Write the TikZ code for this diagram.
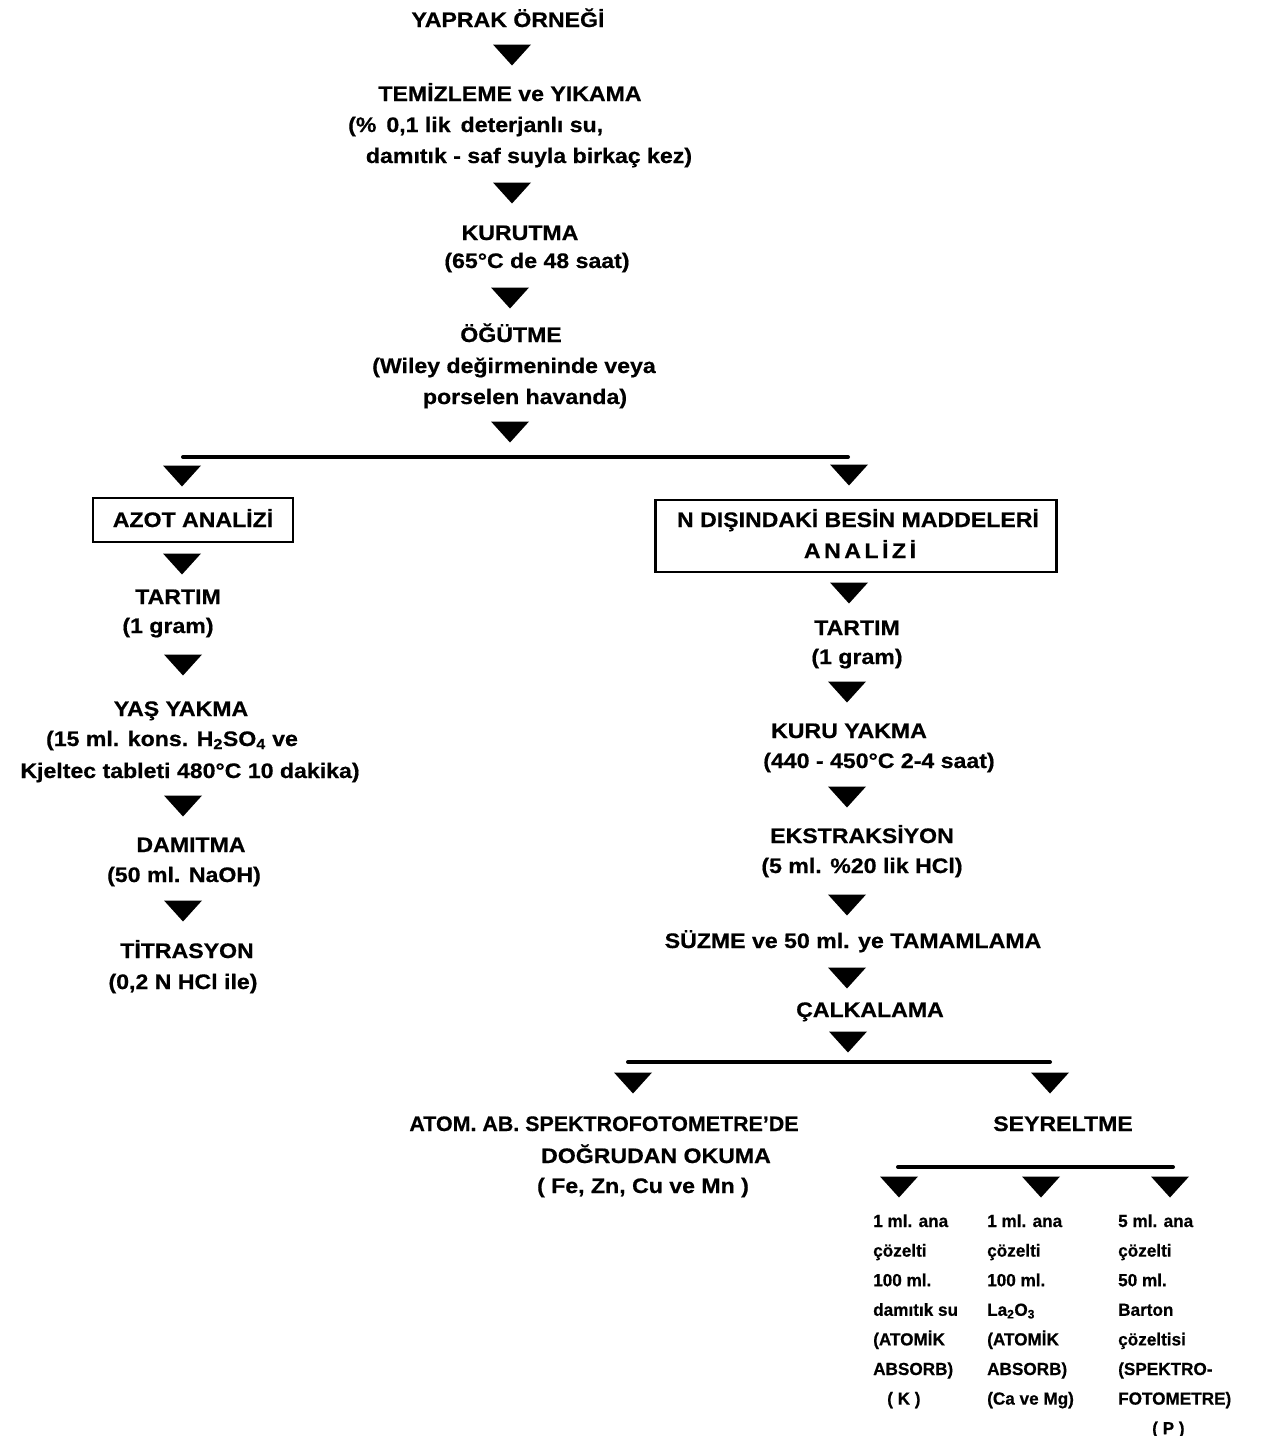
\documentclass[tikz,border=0pt]{standalone}
\usepackage{fontspec}
\setmainfont{Liberation Sans}
\newfontfamily\lb{Liberation Sans}[FakeStretch=1.1, FakeBold=0.6]
\newfontfamily\lc{Liberation Sans}[FakeStretch=1.02, FakeBold=0.6]
\newfontfamily\ld{Liberation Sans}[FakeStretch=0.98, FakeBold=0.5]
\begin{document}
\begin{tikzpicture}[x=1pt,y=-1pt,
  lab/.style={font=\lb\bfseries\fontsize{21}{25}\selectfont, inner sep=0pt, anchor=base},
  labn/.style={font=\lc\bfseries\fontsize{21}{25}\selectfont, inner sep=0pt, anchor=base},
  col/.style={font=\ld\bfseries\fontsize{17.5}{20}\selectfont, inner sep=0pt, anchor=base west},
  boxed/.style={draw, line width=2.6pt, inner sep=0pt},
  bar/.style={line width=4pt, line cap=round},
  tri/.pic={\fill (-19,-10.5) -- (19,-10.5) -- (0,10.5) -- cycle;}]
\useasboundingbox (0,0) rectangle (1283,1436);
\fill[white] (0,0) rectangle (1283,1436);

% main column
\node[lab] (n0) at (508,27) {YAPRAK ÖRNEĞİ};
\coordinate (a1) at (512,55); \pic at (a1) {tri};
\node[lab] (n1) at (510,101) {TEMİZLEME ve YIKAMA};
\node[lab, anchor=base west] (n1a) at (348,132) {(\%\hspace{10pt}0,1 lik\hspace{10pt}deterjanlı su,};
\node[lab] (n1b) at (529,163) {damıtık - saf suyla birkaç kez)};
\coordinate (a2) at (512,193); \pic at (a2) {tri};
\node[lab] (n2) at (520,240) {KURUTMA};
\node[lab] (n2a) at (537,268) {(65°C de 48 saat)};
\coordinate (a3) at (510,298); \pic at (a3) {tri};
\node[lab] (n3) at (511,342) {ÖĞÜTME};
\node[lab] (n3a) at (514,373) {(Wiley değirmeninde veya};
\node[lab] (n3b) at (525,404) {porselen havanda)};
\coordinate (a4) at (510,432); \pic at (a4) {tri};

% first split
\coordinate (s1l) at (183,457);
\coordinate (s1r) at (848,457);
\draw[bar] (s1l) -- (s1r);
\coordinate (a5) at (182,476); \pic at (a5) {tri};
\coordinate (a6) at (849,475); \pic at (a6) {tri};

% left branch
\node[boxed, minimum width=200, minimum height=44] (azot) at (193,520) {};
\node[lab] (azt) at (azot.center) [yshift=-7] {AZOT ANALİZİ};
\coordinate (a7) at (182,564); \pic at (a7) {tri};
\node[lab] (l1) at (178,604) {TARTIM};
\node[lab] (l1a) at (168,633) {(1 gram)};
\coordinate (a9) at (183,665); \pic at (a9) {tri};
\node[lab] (l2) at (181,716) {YAŞ YAKMA};
\node[lab] (l2a) at (172,746) {(15 ml. kons. H\textsubscript{2}SO\textsubscript{4} ve};
\node[lab] (l2b) at (190,778) {Kjeltec tableti 480°C 10 dakika)};
\coordinate (a10) at (183,806); \pic at (a10) {tri};
\node[lab] (l3) at (191,852) {DAMITMA};
\node[lab] (l3a) at (184,882) {(50 ml. NaOH)};
\coordinate (a11) at (183,911); \pic at (a11) {tri};
\node[lab] (l4) at (187,958) {TİTRASYON};
\node[lab] (l4a) at (183,989) {(0,2 N HCl ile)};

% right branch
\node[boxed, minimum width=401, minimum height=72] (ndis) at (856,536) {};
\node[lab] (nd1) at (858,527) {N DIŞINDAKİ BESİN MADDELERİ};
\node[lab] (nd2) at (860,558) {A\,N\,A\,L\,İ\,Z\,İ};
\coordinate (a8) at (849,593); \pic at (a8) {tri};
\node[lab] (r1) at (857,635) {TARTIM};
\node[lab] (r1a) at (857,664) {(1 gram)};
\coordinate (a12) at (847,692); \pic at (a12) {tri};
\node[lab] (r2) at (849,738) {KURU YAKMA};
\node[lab] (r2a) at (879,768) {(440 - 450°C 2-4 saat)};
\coordinate (a13) at (847,797); \pic at (a13) {tri};
\node[lab] (r3) at (862,843) {EKSTRAKSİYON};
\node[lab] (r3a) at (862,873) {(5 ml. \%20 lik HCl)};
\coordinate (a14) at (847,905); \pic at (a14) {tri};
\node[lab] (r4) at (853,948) {SÜZME ve 50 ml. ye TAMAMLAMA};
\coordinate (a15) at (847,978); \pic at (a15) {tri};
\node[lab] (r5) at (870,1017) {ÇALKALAMA};
\coordinate (a16) at (848,1042); \pic at (a16) {tri};

% second split
\coordinate (s2l) at (628,1062);
\coordinate (s2r) at (1050,1062);
\draw[bar] (s2l) -- (s2r);
\coordinate (a17) at (633,1083); \pic at (a17) {tri};
\coordinate (a18) at (1050,1083); \pic at (a18) {tri};
\node[labn] (b1) at (604,1131) {ATOM. AB. SPEKTROFOTOMETRE’DE};
\node[lab] (b1a) at (656,1163) {DOĞRUDAN OKUMA};
\node[lab] (b1b) at (643,1193) {( Fe, Zn, Cu ve Mn )};
\node[lab] (b2) at (1063,1131) {SEYRELTME};

% third split
\coordinate (s3l) at (898,1167);
\coordinate (s3r) at (1173,1167);
\draw[bar] (s3l) -- (s3r);
\coordinate (a19) at (899,1187); \pic at (a19) {tri};
\coordinate (a20) at (1041,1187); \pic at (a20) {tri};
\coordinate (a21) at (1170,1187); \pic at (a21) {tri};

\foreach \t [count=\i] in {{1 ml. ana}, {çözelti}, {100 ml.}, {damıtık su}, {(ATOMİK}, {ABSORB)}, {\hspace*{14pt}( K )}}
  \node[col, name=c1-\i] at (873,{1227+29.6*(\i-1)}) {\t};
\foreach \t [count=\i] in {{1 ml. ana}, {çözelti}, {100 ml.}, {La\textsubscript{2}O\textsubscript{3}}, {(ATOMİK}, {ABSORB)}, {(Ca ve Mg)}}
  \node[col, name=c2-\i] at (987,{1227+29.6*(\i-1)}) {\t};
\foreach \t [count=\i] in {{5 ml. ana}, {çözelti}, {50 ml.}, {Barton}, {çözeltisi}, {(SPEKTRO-}, {FOTOMETRE)}, {\hspace*{34pt}( P )}}
  \node[col, name=c3-\i] at (1118,{1227+29.6*(\i-1)}) {\t};
\end{tikzpicture}
\end{document}
